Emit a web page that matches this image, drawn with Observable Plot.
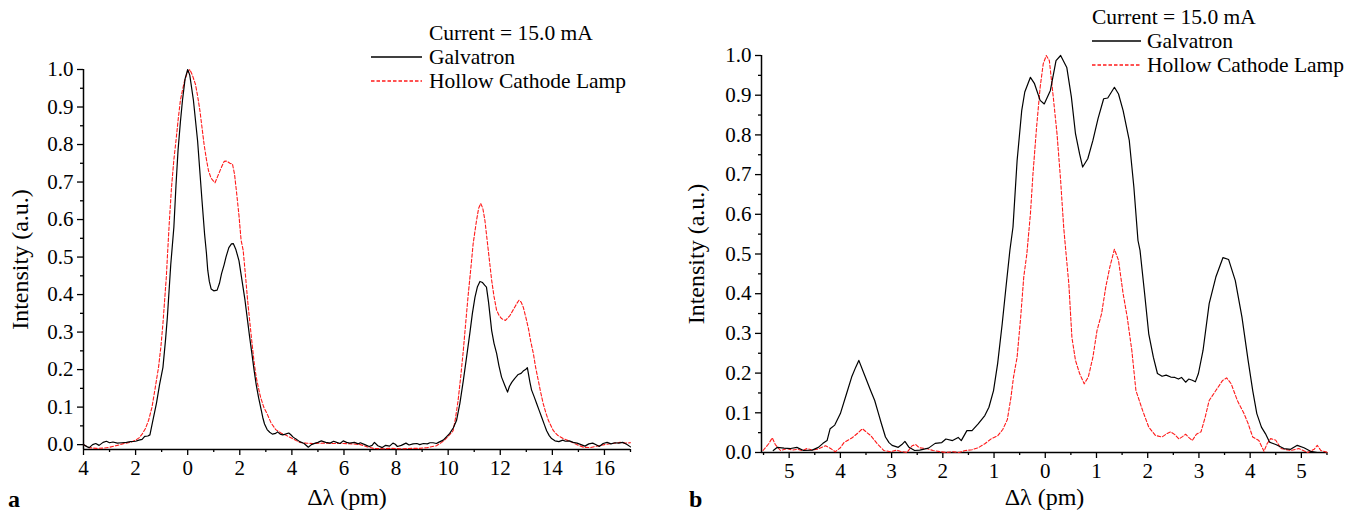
<!DOCTYPE html>
<html>
<head>
<meta charset="utf-8">
<script src="https://cdn.jsdelivr.net/npm/d3@7"></script>
<script src="https://cdn.jsdelivr.net/npm/@observablehq/plot@0.6"></script>
<style>
  html, body { margin: 0; padding: 0; background: #fff; }
  #page { position: relative; width: 1353px; height: 514px; overflow: hidden; background: #fff; }
  .panel { position: absolute; top: 0; }
  #overlay { position: absolute; left: 0; top: 0; pointer-events: none; }
</style>
</head>
<body>
<div id="page">
  <div id="pa" class="panel" style="left:0"></div>
  <div id="pb" class="panel" style="left:676px"></div>
</div>
<script>
// ---------------- DATA ----------------
const seriesNames = ["Galvatron", "Hollow Cathode Lamp"];
const legendTitle = "Current = 15.0 mA";
const xLabel = "Δλ (pm)";
const yLabel = "Intensity (a.u.)";
const panelLetters = ["a", "b"];

// panel a: [Δλ (pm), intensity]
const galvatronA = [
  [-4.0,0.000],[-3.85,-0.006],[-3.78,-0.008],[-3.65,0.000],[-3.53,0.003],[-3.4,-0.002],[-3.25,0.006],
  [-3.12,0.009],[-3.0,0.005],[-2.87,0.007],[-2.7,0.004],[-2.53,0.005],[-2.35,0.006],[-2.2,0.008],
  [-2.0,0.009],[-1.87,0.012],[-1.75,0.014],[-1.65,0.022],[-1.53,0.023],[-1.45,0.026],[-1.35,0.06],
  [-1.2,0.11],[-1.08,0.16],[-0.95,0.206],[-0.85,0.28],[-0.78,0.34],[-0.65,0.48],[-0.53,0.58],
  [-0.45,0.69],[-0.37,0.785],[-0.28,0.86],[-0.2,0.918],[-0.1,0.975],[0.0,1.0],[0.08,0.985],
  [0.22,0.918],[0.38,0.81],[0.55,0.65],[0.65,0.56],[0.72,0.51],[0.77,0.465],[0.83,0.435],
  [0.9,0.415],[1.0,0.41],[1.13,0.412],[1.22,0.43],[1.3,0.456],[1.4,0.48],[1.47,0.5],[1.58,0.525],
  [1.68,0.535],[1.75,0.536],[1.85,0.52],[1.97,0.49],[2.08,0.44],[2.2,0.385],[2.3,0.33],[2.38,0.286],
  [2.47,0.24],[2.55,0.198],[2.63,0.16],[2.72,0.126],[2.8,0.1],[2.88,0.073],[2.95,0.055],[3.05,0.04],
  [3.15,0.033],[3.25,0.028],[3.38,0.03],[3.45,0.034],[3.55,0.028],[3.65,0.026],[3.75,0.028],
  [3.88,0.031],[3.95,0.027],[4.05,0.02],[4.13,0.016],[4.3,0.008],[4.47,0.003],[4.63,-0.007],
  [4.75,0.0],[4.9,0.004],[5.0,0.006],[5.13,0.01],[5.3,0.006],[5.47,0.004],[5.6,0.009],[5.72,0.006],
  [5.85,0.003],[5.97,0.01],[6.1,0.006],[6.22,0.004],[6.4,0.006],[6.55,0.002],[6.63,0.005],[6.8,0.0],
  [6.97,-0.005],[7.08,-0.002],[7.17,0.006],[7.3,-0.003],[7.47,-0.008],[7.6,-0.002],[7.75,-0.004],
  [7.88,0.004],[7.97,0.001],[8.05,-0.005],[8.2,-0.002],[8.38,0.004],[8.5,-0.001],[8.65,0.002],
  [8.8,0.003],[8.91,0.0],[9.05,0.003],[9.2,0.002],[9.3,0.005],[9.42,0.005],[9.55,0.003],[9.63,0.006],
  [9.81,0.012],[9.95,0.022],[10.06,0.03],[10.2,0.045],[10.32,0.064],[10.45,0.11],[10.58,0.17],
  [10.7,0.23],[10.83,0.296],[10.93,0.35],[11.03,0.393],[11.12,0.42],[11.22,0.435],[11.32,0.432],
  [11.4,0.425],[11.47,0.42],[11.55,0.38],[11.67,0.304],[11.76,0.27],[11.86,0.243],[11.95,0.21],
  [12.05,0.18],[12.18,0.157],[12.28,0.14],[12.35,0.155],[12.44,0.166],[12.55,0.176],[12.69,0.187],
  [12.8,0.19],[12.88,0.196],[12.97,0.2],[13.04,0.205],[13.14,0.166],[13.2,0.146],[13.3,0.128],
  [13.4,0.109],[13.5,0.09],[13.59,0.073],[13.7,0.052],[13.78,0.037],[13.88,0.024],[13.97,0.016],
  [14.1,0.01],[14.25,0.008],[14.4,0.012],[14.5,0.009],[14.65,0.01],[14.8,0.006],[14.95,0.004],
  [15.1,0.0],[15.25,-0.004],[15.4,0.002],[15.55,0.004],[15.7,-0.001],[15.8,-0.005],[15.95,0.003],
  [16.1,0.006],[16.25,0.002],[16.4,0.005],[16.55,0.004],[16.7,0.006],[16.85,0.001],[17.0,-0.006]
];
const hollowA = [
  [-4.0,0.0],[-3.8,-0.008],[-3.5,-0.01],[-3.2,-0.009],[-3.0,-0.007],[-2.7,-0.002],[-2.5,0.002],
  [-2.2,0.006],[-2.0,0.012],[-1.87,0.018],[-1.75,0.028],[-1.62,0.043],[-1.5,0.065],[-1.37,0.1],
  [-1.25,0.15],[-1.12,0.206],[-1.03,0.26],[-0.95,0.323],[-0.82,0.447],[-0.78,0.5],[-0.7,0.6],
  [-0.62,0.687],[-0.53,0.76],[-0.45,0.81],[-0.36,0.87],[-0.28,0.918],[-0.2,0.945],[-0.12,0.97],
  [-0.02,0.99],[0.08,1.0],[0.18,0.985],[0.3,0.96],[0.38,0.93],[0.47,0.89],[0.55,0.845],[0.63,0.8],
  [0.72,0.76],[0.8,0.73],[0.9,0.71],[1.05,0.698],[1.15,0.715],[1.3,0.74],[1.4,0.755],[1.5,0.756],
  [1.62,0.75],[1.72,0.748],[1.8,0.72],[1.88,0.67],[1.97,0.61],[2.05,0.545],[2.13,0.518],[2.22,0.45],
  [2.3,0.385],[2.38,0.33],[2.47,0.27],[2.55,0.22],[2.63,0.18],[2.72,0.15],[2.8,0.126],[2.92,0.1],
  [3.05,0.082],[3.2,0.058],[3.38,0.04],[3.6,0.03],[3.8,0.024],[4.05,0.015],[4.3,0.006],[4.55,0.004],
  [4.8,0.003],[5.2,0.004],[5.6,0.003],[5.97,0.003],[6.3,0.002],[6.63,0.0],[6.9,-0.006],[7.13,-0.01],
  [7.5,-0.011],[7.8,-0.01],[8.2,-0.011],[8.63,-0.01],[8.91,-0.01],[9.2,-0.008],[9.55,-0.003],
  [9.75,0.006],[9.87,0.013],[10.0,0.022],[10.19,0.037],[10.28,0.07],[10.38,0.117],[10.48,0.18],
  [10.58,0.25],[10.68,0.33],[10.77,0.40],[10.87,0.47],[10.96,0.536],[11.09,0.598],[11.17,0.63],
  [11.25,0.643],[11.33,0.63],[11.41,0.598],[11.54,0.518],[11.67,0.438],[11.76,0.395],[11.86,0.358],
  [11.95,0.345],[12.05,0.336],[12.2,0.331],[12.37,0.344],[12.56,0.367],[12.65,0.378],[12.72,0.385],
  [12.8,0.38],[12.88,0.367],[12.98,0.34],[13.08,0.31],[13.17,0.275],[13.27,0.243],[13.36,0.205],
  [13.46,0.171],[13.55,0.14],[13.65,0.109],[13.75,0.085],[13.85,0.064],[14.04,0.037],[14.2,0.025],
  [14.42,0.016],[14.7,0.008],[14.94,0.0],[15.2,-0.007],[15.45,-0.008],[15.7,-0.004],[16.0,0.0],
  [16.3,0.003],[16.6,0.006],[16.8,0.004],[17.0,0.005]
];

// panel b: [Δλ (pm), intensity]
const galvatronB = [
  [-5.31,0.005],[-5.23,0.013],[-5.1,0.011],[-4.97,0.01],[-4.85,0.013],[-4.72,0.005],[-4.55,0.006],
  [-4.43,0.013],[-4.34,0.023],[-4.26,0.03],[-4.2,0.06],[-4.11,0.069],[-4.0,0.098],[-3.88,0.148],
  [-3.78,0.19],[-3.7,0.215],[-3.64,0.232],[-3.54,0.199],[-3.41,0.156],[-3.33,0.131],[-3.26,0.1],
  [-3.2,0.073],[-3.12,0.039],[-3.05,0.025],[-2.99,0.018],[-2.87,0.013],[-2.8,0.02],[-2.74,0.028],
  [-2.66,0.013],[-2.55,0.005],[-2.45,0.006],[-2.28,0.011],[-2.15,0.023],[-2.02,0.025],[-1.94,0.034],
  [-1.81,0.03],[-1.7,0.038],[-1.64,0.03],[-1.53,0.055],[-1.43,0.055],[-1.31,0.072],[-1.18,0.093],
  [-1.1,0.114],[-1.01,0.156],[-0.93,0.224],[-0.84,0.325],[-0.76,0.425],[-0.69,0.51],[-0.63,0.568],
  [-0.55,0.735],[-0.46,0.861],[-0.4,0.908],[-0.29,0.945],[-0.21,0.929],[-0.1,0.887],[-0.02,0.878],
  [0.1,0.912],[0.21,0.987],[0.3,1.0],[0.42,0.97],[0.51,0.895],[0.59,0.803],[0.67,0.752],[0.73,0.719],
  [0.83,0.74],[0.93,0.786],[1.03,0.841],[1.14,0.891],[1.22,0.893],[1.35,0.92],[1.43,0.903],
  [1.52,0.861],[1.64,0.786],[1.73,0.668],[1.81,0.534],[1.85,0.509],[1.94,0.4],[2.02,0.299],
  [2.11,0.24],[2.19,0.199],[2.28,0.192],[2.36,0.195],[2.45,0.19],[2.53,0.189],[2.6,0.185],
  [2.66,0.189],[2.74,0.177],[2.8,0.185],[2.87,0.182],[2.93,0.178],[2.99,0.199],[3.08,0.257],
  [3.2,0.375],[3.33,0.442],[3.47,0.491],[3.58,0.486],[3.71,0.433],[3.84,0.341],[3.96,0.232],
  [4.05,0.156],[4.13,0.098],[4.22,0.064],[4.3,0.047],[4.38,0.026],[4.5,0.02],[4.66,0.01],
  [4.79,0.008],[4.92,0.018],[5.05,0.012],[5.18,0.003],[5.31,0.0]
];
const hollowB = [
  [-5.51,0.005],[-5.4,0.022],[-5.33,0.037],[-5.27,0.02],[-5.17,0.005],[-5.04,0.01],[-4.94,0.006],
  [-4.84,0.008],[-4.75,0.005],[-4.65,0.01],[-4.55,0.006],[-4.45,0.008],[-4.29,0.017],[-4.19,0.01],
  [-4.1,0.002],[-4.0,0.012],[-3.93,0.025],[-3.77,0.037],[-3.65,0.05],[-3.57,0.06],[-3.48,0.05],
  [-3.41,0.043],[-3.28,0.022],[-3.15,0.005],[-3.02,0.002],[-2.9,0.006],[-2.83,0.003],[-2.7,0.0],
  [-2.6,0.017],[-2.53,0.02],[-2.46,0.012],[-2.32,0.01],[-2.19,0.005],[-2.05,0.002],[-1.94,0.0],
  [-1.8,0.002],[-1.69,0.0],[-1.56,0.005],[-1.43,0.007],[-1.31,0.012],[-1.18,0.022],[-1.05,0.035],
  [-0.93,0.042],[-0.83,0.058],[-0.74,0.083],[-0.67,0.139],[-0.62,0.19],[-0.55,0.24],[-0.48,0.341],
  [-0.42,0.442],[-0.36,0.5],[-0.29,0.601],[-0.24,0.702],[-0.17,0.819],[-0.1,0.92],[-0.04,0.979],
  [0.02,1.0],[0.08,0.987],[0.15,0.903],[0.23,0.802],[0.3,0.685],[0.36,0.567],[0.4,0.509],
  [0.46,0.425],[0.52,0.29],[0.59,0.232],[0.67,0.199],[0.76,0.173],[0.84,0.19],[0.93,0.24],
  [1.01,0.307],[1.1,0.35],[1.18,0.416],[1.26,0.467],[1.35,0.512],[1.43,0.484],[1.52,0.4],
  [1.6,0.341],[1.69,0.257],[1.77,0.156],[1.9,0.106],[2.02,0.064],[2.15,0.043],[2.28,0.039],
  [2.38,0.048],[2.45,0.052],[2.53,0.045],[2.61,0.034],[2.68,0.04],[2.74,0.046],[2.8,0.038],
  [2.87,0.03],[2.95,0.046],[3.04,0.052],[3.12,0.088],[3.2,0.131],[3.33,0.156],[3.46,0.181],
  [3.54,0.188],[3.63,0.173],[3.75,0.131],[3.88,0.098],[3.96,0.073],[4.05,0.039],[4.17,0.03],
  [4.27,0.003],[4.33,0.022],[4.4,0.035],[4.5,0.031],[4.6,0.01],[4.79,0.005],[4.95,0.01],
  [5.12,0.0],[5.25,0.008],[5.31,0.018],[5.38,0.005],[5.51,0.0]
];

// axis ticks
const xTicksA = [-4,-2,0,2,4,6,8,10,12,14,16];
const xMinorA = [-3,-1,1,3,5,7,9,11,13,15,17];
const xTicksB = [-5,-4,-3,-2,-1,0,1,2,3,4,5];
const xMinorB = [-5.5,-4.5,-3.5,-2.5,-1.5,-0.5,0.5,1.5,2.5,3.5,4.5,5.5];
const yTicks = [0,0.1,0.2,0.3,0.4,0.5,0.6,0.7,0.8,0.9,1.0];
const yMinor = [0.05,0.15,0.25,0.35,0.45,0.55,0.65,0.75,0.85,0.95];

// ---------------- DRAW ----------------
const FONT = "'Liberation Serif', 'Times New Roman', Times, serif";
const RED = "#ff1a1a";

function panel(opts) {
  const {width, height, margins, xDomain, yDomain, xTicks, xMinor, galv, hcl, yLabelDx, xLabelDx, xLabelDy} = opts;
  return Plot.plot({
    width, height,
    marginLeft: margins[0], marginRight: margins[1], marginTop: margins[2], marginBottom: margins[3],
    x: {domain: xDomain},
    y: {domain: yDomain},
    style: {fontFamily: FONT, fontSize: "21px", color: "black", background: "white", overflow: "visible"},
    marks: [
      Plot.axisY(yTicks, {tickSize: 6, tickPadding: 4, tickFormat: d => d.toFixed(1), label: null, strokeWidth: 1.3, fontSize: 21, fontFamily: FONT}),
      Plot.axisY(yMinor, {tickSize: 3, tickFormat: () => "", label: null, strokeWidth: 1.3}),
      Plot.axisX(xTicks, {tickSize: 6, tickPadding: 5, tickFormat: d => String(Math.abs(d)), label: null, strokeWidth: 1.3, fontSize: 21, fontFamily: FONT}),
      Plot.axisX(xMinor, {tickSize: 3, tickFormat: () => "", label: null, strokeWidth: 1.3}),
      Plot.ruleX([xDomain[0]], {stroke: "black", strokeWidth: 1.5}),
      Plot.ruleY([yDomain[0]], {stroke: "black", strokeWidth: 1.5}),
      Plot.line(hcl, {x: d => d[0], y: d => d[1], stroke: RED, strokeWidth: 1.1, strokeDasharray: "3.5,2"}),
      Plot.line(galv, {x: d => d[0], y: d => d[1], stroke: "black", strokeWidth: 1.2}),
      Plot.text([xLabel], {frameAnchor: "bottom", dy: xLabelDy, dx: xLabelDx, fontSize: 24, fontFamily: FONT, textAnchor: "middle", lineAnchor: "middle", fill: "black"}),
      Plot.text([yLabel], {frameAnchor: "left", rotate: -90, dx: yLabelDx, fontSize: 24, fontFamily: FONT, textAnchor: "middle", lineAnchor: "middle", fill: "black"})
    ]
  });
}

document.getElementById("pa").append(panel({
  width: 676, height: 514, margins: [83, 46, 69, 65],
  xDomain: [-4, 17], yDomain: [-0.013, 1.0],
  xTicks: xTicksA, xMinor: xMinorA, galv: galvatronA, hcl: hollowA,
  yLabelDx: -63, xLabelDx: -10, xLabelDy: 48
}));
document.getElementById("pb").append(panel({
  width: 677, height: 514, margins: [85, 26, 55, 62],
  xDomain: [-5.54, 5.51], yDomain: [0, 1.0],
  xTicks: xTicksB, xMinor: xMinorB, galv: galvatronB, hcl: hollowB,
  yLabelDx: -65, xLabelDx: 0, xLabelDy: 45
}));

// legends and panel letters
const legends = [
  {titleX: 429, titleY: 40, lineX1: 371, lineX2: 422, textX: 429, rows: [64, 88]},
  {titleX: 1092, titleY: 24, lineX1: 1092, lineX2: 1141, textX: 1147, rows: [48, 72]}
];
const letterPos = [[8, 507], [689, 507]];

const ov = d3.select("#page").append("svg").attr("id", "overlay")
  .attr("width", 1353).attr("height", 514)
  .style("font-family", FONT);

legends.forEach(L => {
  ov.append("text").attr("x", L.titleX).attr("y", L.titleY).attr("font-size", 21.5).text(legendTitle);
  seriesNames.forEach((name, i) => {
    const base = L.rows[i];
    ov.append("line").attr("x1", L.lineX1).attr("x2", L.lineX2)
      .attr("y1", base - 7).attr("y2", base - 7)
      .attr("stroke", i === 0 ? "black" : RED)
      .attr("stroke-width", 1.3)
      .attr("stroke-dasharray", i === 0 ? null : "3.5,2");
    ov.append("text").attr("x", L.textX).attr("y", base).attr("font-size", 21.5).text(name);
  });
});
panelLetters.forEach((t, i) => {
  ov.append("text").attr("x", letterPos[i][0]).attr("y", letterPos[i][1])
    .attr("font-size", 24).attr("font-weight", "bold").text(t);
});

d3.selectAll("#page svg").style("font-family", FONT);
</script>
</body>
</html>
